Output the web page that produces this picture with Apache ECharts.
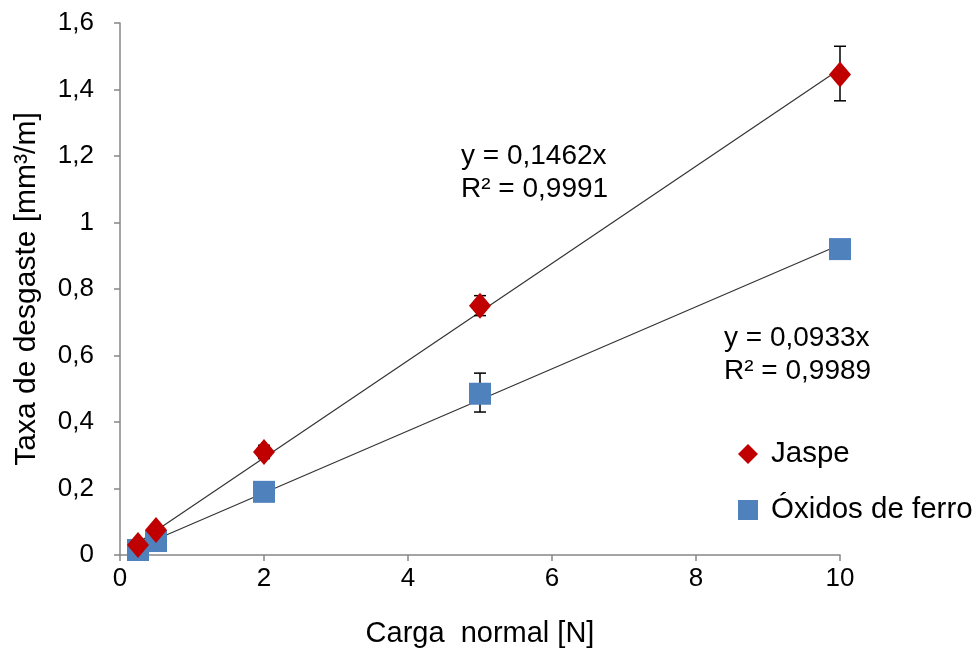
<!DOCTYPE html>
<html>
<head>
<meta charset="utf-8">
<script src="https://cdn.jsdelivr.net/npm/echarts@6/dist/echarts.min.js"></script>
<style>html,body{margin:0;padding:0;background:#fff}#c{width:979px;height:653px}</style>
</head>
<body>
<div id="c"></div>
<script>
var xJaspe = [0.25, 0.5, 2, 5, 10];
var yJaspe = [0.03, 0.075, 0.31, 0.75, 1.445];
var errJaspeLow = [null, null, 0.29, 0.72, 1.366];
var errJaspeHigh = [null, null, 0.33, 0.78, 1.53];
var xOxidos = [0.25, 0.5, 2, 5, 10];
var yOxidos = [0.015, 0.042, 0.19, 0.485, 0.92];
var errOxidosLow = [null, null, null, 0.43, null];
var errOxidosHigh = [null, null, null, 0.547, null];
var trendJaspeX = [0.2, 10];
var trendJaspeY = [0.0292, 1.462];
var trendOxidosX = [0.2, 10];
var trendOxidosY = [0.0187, 0.933];
var xTicks = [0, 2, 4, 6, 8, 10];
var yTicks = [0, 0.2, 0.4, 0.6, 0.8, 1, 1.2, 1.4, 1.6];
var seriesNames = ['Jaspe', 'Óxidos de ferro'];
var eqJaspe = ['y = 0,1462x', 'R² = 0,9991'];
var eqOxidos = ['y = 0,0933x', 'R² = 0,9989'];

var FONT = '"Liberation Sans", Arial, sans-serif';
var RED = '#C00000', BLUE = '#4F81BD';

function pairs(xs, ys) { return xs.map(function (x, i) { return [x, ys[i]]; }); }
function errPairs(xs, lo, hi) {
  var out = [];
  xs.forEach(function (x, i) { if (lo[i] != null) out.push([x, lo[i], hi[i]]); });
  return out;
}
function errRender(params, api) {
  var x = api.value(0);
  var p1 = api.coord([x, api.value(1)]);
  var p2 = api.coord([x, api.value(2)]);
  var w = 6;
  var st = { stroke: '#000', lineWidth: 1.5 };
  return { type: 'group', children: [
    { type: 'line', shape: { x1: p1[0], y1: p1[1], x2: p2[0], y2: p2[1] }, style: st },
    { type: 'line', shape: { x1: p1[0] - w, y1: p1[1], x2: p1[0] + w, y2: p1[1] }, style: st },
    { type: 'line', shape: { x1: p2[0] - w, y1: p2[1], x2: p2[0] + w, y2: p2[1] }, style: st }
  ]};
}

var chart = echarts.init(document.getElementById('c'), null, { renderer: 'canvas' });
chart.setOption({
  animation: false,
  backgroundColor: '#fff',
  textStyle: { fontFamily: FONT },
  grid: { left: 120, right: 139, top: 23, bottom: 96 },
  xAxis: {
    type: 'value', min: xTicks[0], max: xTicks[xTicks.length - 1], interval: 2,
    name: 'Carga  normal [N]', nameLocation: 'middle', nameGap: 64,
    nameTextStyle: { fontSize: 29, color: '#000', fontFamily: FONT },
    axisLine: { lineStyle: { color: '#868686', width: 1.5 } },
    axisTick: { show: true, length: 6, lineStyle: { color: '#868686', width: 1.5 } },
    axisLabel: { fontSize: 26, color: '#000', margin: 11, fontFamily: FONT },
    splitLine: { show: false }
  },
  yAxis: {
    type: 'value', min: yTicks[0], max: yTicks[yTicks.length - 1], interval: 0.2,
    name: 'Taxa de desgaste [mm³/m]', nameLocation: 'middle', nameGap: 78,
    nameTextStyle: { fontSize: 30, color: '#000', fontFamily: FONT },
    axisLine: { show: true, lineStyle: { color: '#868686', width: 1.5 } },
    axisTick: { show: true, length: 6, lineStyle: { color: '#868686', width: 1.5 } },
    axisLabel: { fontSize: 26, color: '#000', margin: 26, fontFamily: FONT,
      formatter: function (v) { return String(Math.round(v * 10) / 10).replace('.', ','); } },
    splitLine: { show: false }
  },
  legend: {
    orient: 'vertical', left: 733, top: 434, itemGap: 26, itemWidth: 20, itemHeight: 20,
    data: [{ name: seriesNames[0], icon: 'diamond' }, { name: seriesNames[1], icon: 'rect' }],
    textStyle: { fontSize: 29.5, color: '#000', fontFamily: FONT, padding: [0, 0, 0, 8] }
  },
  graphic: [
    { type: 'text', left: 461, top: 140, style: { text: eqJaspe.join('\n'), font: '28px ' + FONT, fill: '#000', lineHeight: 33 } },
    { type: 'text', left: 724, top: 322, style: { text: eqOxidos.join('\n'), font: '28px ' + FONT, fill: '#000', lineHeight: 33 } }
  ],
  series: [
    { name: 'trendJ', type: 'line', data: pairs(trendJaspeX, trendJaspeY), symbol: 'none',
      lineStyle: { color: '#333', width: 1.2 }, z: 1, silent: true },
    { name: 'trendO', type: 'line', data: pairs(trendOxidosX, trendOxidosY), symbol: 'none',
      lineStyle: { color: '#333', width: 1.2 }, z: 1, silent: true },
    { name: 'errJ', type: 'custom', renderItem: errRender, data: errPairs(xJaspe, errJaspeLow, errJaspeHigh), z: 2, silent: true },
    { name: 'errO', type: 'custom', renderItem: errRender, data: errPairs(xOxidos, errOxidosLow, errOxidosHigh), z: 2, silent: true },
    { name: seriesNames[1], type: 'scatter', data: pairs(xOxidos, yOxidos), symbol: 'rect', symbolSize: 22,
      itemStyle: { color: BLUE, opacity: 1 }, z: 3 },
    { name: seriesNames[0], type: 'scatter', data: pairs(xJaspe, yJaspe), symbol: 'diamond', symbolSize: [22, 26],
      itemStyle: { color: RED, opacity: 1 }, z: 4 }
  ]
});
</script>
</body>
</html>
